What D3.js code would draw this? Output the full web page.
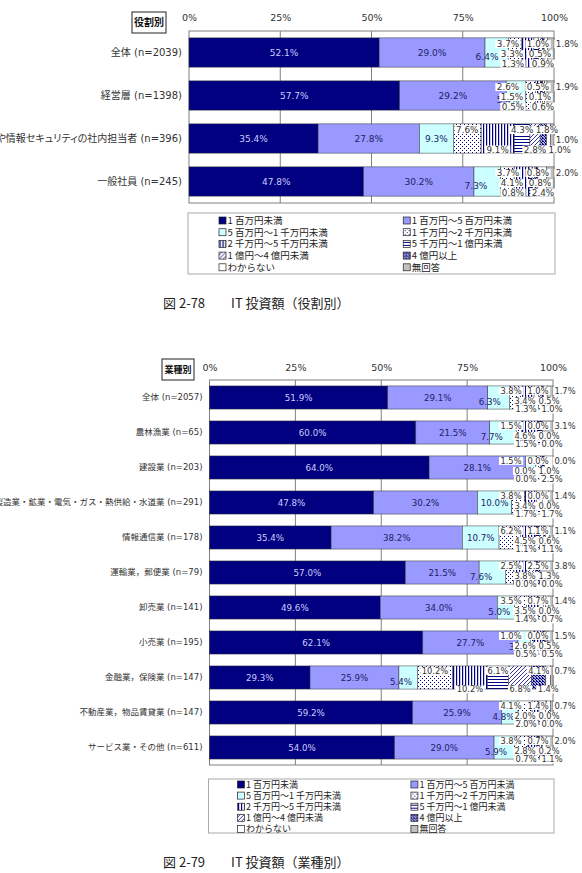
<!DOCTYPE html>
<html lang="ja">
<head>
<meta charset="utf-8">
<title>IT投資額</title>
<script src="https://cdn.jsdelivr.net/npm/d3@7"></script>
<style>
  body { margin: 0; background: #fff; }
  svg { display: block; font-family: "DejaVu Sans", "Noto Sans CJK JP", sans-serif; }
  .cap { font-family: "Noto Sans CJK JP", sans-serif; }
  .palt { font-feature-settings: "palt"; }
</style>
</head>
<body>
<svg id="chart" width="582" height="873"></svg>
<script>
// ---- data ----
const legendLabels = [
  "1 百万円未満", "1 百万円～5 百万円未満",
  "5 百万円～1 千万円未満", "1 千万円～2 千万円未満",
  "2 千万円～5 千万円未満", "5 千万円～1 億円未満",
  "1 億円～4 億円未満", "4 億円以上",
  "わからない", "無回答"
];
const tickValues = [0, 25, 50, 75, 100];
const tickLabels = ["0%", "25%", "50%", "75%", "100%"];

const roleCategories = [
  "全体 (n=2039)", "経営層 (n=1398)",
  "ITや情報セキュリティの社内担当者 (n=396)", "一般社員 (n=245)"
];
const roleValues = [
  [52.1, 29.0, 6.4, 3.7, 3.3, 1.3, 1.0, 0.5, 0.9, 1.8],
  [57.7, 29.2, 5.4, 2.6, 1.5, 0.5, 0.5, 0.1, 0.6, 1.9],
  [35.4, 27.8, 9.3, 7.6, 9.1, 4.3, 2.8, 1.8, 1.0, 1.0],
  [47.8, 30.2, 7.3, 3.7, 4.1, 0.8, 0.8, 0.8, 2.4, 2.0]
];

const industryCategories = [
  "全体 (n=2057)", "農林漁業 (n=65)", "建設業 (n=203)",
  "製造業・鉱業・電気・ガス・熱供給・水道業 (n=291)", "情報通信業 (n=178)",
  "運輸業，郵便業 (n=79)", "卸売業 (n=141)", "小売業 (n=195)",
  "金融業，保険業 (n=147)", "不動産業，物品賃貸業 (n=147)", "サービス業・その他 (n=611)"
];
const industryValues = [
  [51.9, 29.1, 6.3, 3.8, 3.4, 1.3, 1.0, 0.5, 1.0, 1.7],
  [60.0, 21.5, 7.7, 1.5, 4.6, 1.5, 0.0, 0.0, 0.0, 3.1],
  [64.0, 28.1, 3.0, 1.5, 0.0, 0.0, 0.0, 1.0, 2.5, 0.0],
  [47.8, 30.2, 10.0, 3.8, 3.4, 1.7, 0.0, 0.0, 1.7, 1.4],
  [35.4, 38.2, 10.7, 6.2, 4.5, 1.1, 1.1, 0.6, 1.1, 1.1],
  [57.0, 21.5, 7.6, 2.5, 3.8, 0.0, 2.5, 1.3, 0.0, 3.8],
  [49.6, 34.0, 5.0, 3.5, 3.5, 1.4, 0.7, 0.0, 0.7, 1.4],
  [62.1, 27.7, 3.6, 1.0, 2.6, 0.5, 0.0, 0.5, 0.5, 1.5],
  [29.3, 25.9, 5.4, 10.2, 10.2, 6.1, 6.8, 4.1, 1.4, 0.7],
  [59.2, 25.9, 4.8, 4.1, 2.0, 2.0, 1.4, 0.0, 0.0, 0.7],
  [54.0, 29.0, 5.9, 3.8, 2.8, 0.7, 0.7, 0.2, 1.1, 2.0]
];

// ---- styles ----
const fills = ["#000080", "#9999ff", "#ccffff", "url(#p4)", "url(#p5)", "url(#p6)",
               "url(#p7)", "url(#p8)", "#ffffff", "#c0c0c0"];
const insideColors = ["#ccccff", "#222266", "#222266"];

const svg = d3.select("#chart");
const defs = svg.append("defs");

function pattern(id, w, h, draw) {
  const p = defs.append("pattern").attr("id", id).attr("patternUnits", "userSpaceOnUse")
    .attr("width", w).attr("height", h);
  p.append("rect").attr("width", w).attr("height", h).attr("fill", "#fff");
  draw(p);
}
pattern("p4", 4, 4, p => {
  p.append("rect").attr("x", 0).attr("y", 0).attr("width", 1).attr("height", 1).attr("fill", "#000080");
  p.append("rect").attr("x", 2).attr("y", 2).attr("width", 1).attr("height", 1).attr("fill", "#000080");
});
pattern("p5", 3, 3, p => {
  p.append("rect").attr("x", 0).attr("y", 0).attr("width", 1.2).attr("height", 3).attr("fill", "#000080");
});
pattern("p6", 3, 3, p => {
  p.append("rect").attr("x", 0).attr("y", 1).attr("width", 3).attr("height", 1).attr("fill", "#000080");
});
pattern("p7", 4, 4, p => {
  p.append("path").attr("d", "M0,4 L4,0 M-1,1 L1,-1 M3,5 L5,3").attr("stroke", "#000080").attr("stroke-width", 0.8);
});
pattern("p8", 3, 3, p => {
  p.append("path").attr("d", "M0,0 L3,3 M-1,2 L1,4 M2,-1 L4,1").attr("stroke", "#000080").attr("stroke-width", 1.2);
  p.append("rect").attr("x", 2).attr("y", 0).attr("width", 1).attr("height", 1).attr("fill", "#000080");
});

const fmt = v => d3.format(".1f")(v) + "%";

function addLabel(g, x, y, text, size, color, bg) {
  const lg = g.append("g");
  const t = lg.append("text").attr("x", x).attr("y", y).attr("dy", "0.35em")
    .attr("text-anchor", "middle").attr("font-size", size).attr("fill", color).text(text);
  if (bg) {
    const b = t.node().getBBox();
    lg.insert("rect", "text").attr("x", b.x - 1.5).attr("y", b.y + 1)
      .attr("width", b.width + 3).attr("height", b.height - 2).attr("fill", "#fff");
  }
  return t.node().getComputedTextLength();
}

function drawChart(cfg, categories, values) {
  const g = svg.append("g");
  const x = d3.scaleLinear().domain([0, 100]).range([cfg.x0, cfg.x1]);
  const y = d3.scaleBand().domain(categories).range([cfg.top, cfg.bottom])
    .paddingInner(cfg.pad).paddingOuter(cfg.pad / 2);

  // tag box
  g.append("rect").attr("x", cfg.tag[0]).attr("y", cfg.tag[1]).attr("width", cfg.tag[2]).attr("height", cfg.tag[3])
    .attr("fill", "#fff").attr("stroke", "#222").attr("stroke-width", 1);
  g.append("text").attr("x", cfg.tag[0] + cfg.tag[2] / 2).attr("y", cfg.tag[1] + cfg.tag[3] / 2).attr("dy", "0.36em")
    .attr("text-anchor", "middle").attr("font-size", cfg.tagFont).attr("font-weight", "bold")
    .attr("class", "cap").attr("fill", "#111").text(cfg.tagText);

  // top axis labels
  const ax = g.append("g").attr("transform", `translate(0,${cfg.top - 6})`)
    .call(d3.axisTop(x).tickValues(tickValues).tickFormat((d, i) => tickLabels[i]).tickSize(0).tickPadding(cfg.tickPad));
  ax.select(".domain").remove();
  ax.selectAll("text").attr("font-size", cfg.axisFont).attr("fill", "#333")
    .attr("font-family", "DejaVu Sans, sans-serif");

  // frame and grid
  g.append("g").selectAll("line").data(tickValues.slice(1, 4)).join("line")
    .attr("x1", d => x(d)).attr("x2", d => x(d)).attr("y1", cfg.top).attr("y2", cfg.bottom)
    .attr("stroke", "#808080").attr("stroke-width", 1);
  g.append("rect").attr("x", x(0)).attr("y", cfg.top).attr("width", x(100) - x(0)).attr("height", cfg.bottom - cfg.top)
    .attr("fill", "none").attr("stroke", "#808080").attr("stroke-width", 1);

  // category labels
  g.append("g").selectAll("text").data(categories).join("text")
    .attr("class", cfg.catClass)
    .attr("x", cfg.x0 - 7).attr("y", d => y(d) + y.bandwidth() / 2).attr("dy", "0.35em")
    .attr("text-anchor", "end").attr("font-size", cfg.catFont).attr("fill", "#333").text(d => d);

  // bars
  const bars = g.append("g");
  const labels = g.append("g");
  values.forEach((vals, r) => {
    const total = d3.sum(vals);
    let acc = 0;
    const segs = vals.map((v, i) => {
      const s = { i, v, a: acc / total * 100, b: (acc + v) / total * 100 };
      acc += v;
      return s;
    });
    const yc = y(categories[r]) + y.bandwidth() / 2;
    bars.selectAll(null).data(segs.filter(s => s.v > 0)).join("rect")
      .attr("x", s => x(s.a)).attr("y", y(categories[r]))
      .attr("width", s => x(s.b) - x(s.a)).attr("height", y.bandwidth())
      .attr("fill", s => fills[s.i]).attr("stroke", "#333").attr("stroke-width", 0.5);

    // large segment labels
    segs.slice(0, 3).forEach(s => {
      const w = x(s.b) - x(s.a);
      if (s.i < 2 || w > cfg.labelFont * 3.2) {
        addLabel(labels, (x(s.a) + x(s.b)) / 2, yc, fmt(s.v), cfg.labelFont, insideColors[s.i], false);
      } else {
        addLabel(labels, x(s.a) + 2, yc + 4, fmt(s.v), cfg.labelFont, insideColors[s.i], false);
      }
    });

    // small segment labels
    const small = segs.slice(3);
    const wide = d3.sum(small.slice(0, 6), s => s.v) > 20;
    const sf = cfg.smallFont;
    if (!wide) {
      const slots = [[0, 0], [1, 0], [2, 0], [0, 1], [1, 1], [2, 1], [0, 2]];
      small.forEach((s, k) => {
        const [row, col] = slots[k];
        addLabel(labels, cfg.x1 + cfg.slotDx[row][col], yc + cfg.rowDy[row], fmt(s.v), sf, "#333", true);
      });
    } else {
      const lastRight = [-1e9, -1e9, -1e9];
      const lw = sf * 2.7;
      small.forEach((s, k) => {
        let row, cx;
        if (k === small.length - 1) {
          cx = cfg.x1 + cfg.slotDx[0][2];
          row = [0, 1, 2].find(rr => lastRight[rr] < cx - lw / 2) ?? 1;
        } else {
          row = k % 2 === 0 ? 0 : 2;
          cx = Math.max((x(s.a) + x(s.b)) / 2, lastRight[row] + lw / 2 + 1);
        }
        lastRight[row] = cx + lw / 2;
        addLabel(labels, cx, yc + cfg.rowDy[row], fmt(s.v), sf, "#333", true);
      });
    }
  });

  // legend
  const lw = cfg.x1 - cfg.x0 + 2;
  const lg = g.append("g").attr("transform", `translate(${cfg.x0 - 1},${cfg.legendTop})`);
  lg.append("rect").attr("width", lw).attr("height", cfg.legendH)
    .attr("fill", "#fff").attr("stroke", "#aaa").attr("stroke-width", 1);
  const items = lg.selectAll("g").data(legendLabels).join("g")
    .attr("transform", (d, i) => `translate(${lw * (i % 2 === 0 ? 0.094 : 0.596)},${cfg.legendRow0 + Math.floor(i / 2) * cfg.legendStep})`);
  items.append("rect").attr("x", -3.5).attr("y", -3.5).attr("width", 7).attr("height", 7)
    .attr("fill", (d, i) => fills[i]).attr("stroke", "#222").attr("stroke-width", 0.7);
  items.append("text").attr("x", 5).attr("dy", "0.35em").attr("font-size", cfg.legendFont)
    .attr("fill", "#222").attr("class", "cap").text(d => d);

  // caption
  g.append("text").attr("class", "cap").attr("x", 163).attr("y", cfg.captionY).attr("dy", "0.35em")
    .attr("font-size", 13).attr("fill", "#222").attr("xml:space", "preserve").text(cfg.caption);
}

drawChart({
  x0: 189, x1: 554, top: 31, bottom: 203, pad: 0.32,
  tag: [132, 12, 34, 21], tagText: "役割別", tagFont: 10,
  axisFont: 9.5, tickPad: 4, catFont: 10, catClass: "palt", labelFont: 9, smallFont: 8.8,
  slotDx: [[-46, -16, 13], [-42, -14], [-41, -11]], rowDy: [-8.5, 1.5, 11],
  legendTop: 213, legendH: 61, legendRow0: 7.5, legendStep: 11.7, legendFont: 9.5,
  captionY: 303, caption: "図 2-78　　IT 投資額（役割別）"
}, roleCategories, roleValues);

drawChart({
  x0: 209.5, x1: 553, top: 380, bottom: 765, pad: 0.34,
  tag: [162, 359, 32, 21], tagText: "業種別", tagFont: 9,
  axisFont: 9.5, tickPad: 3, catFont: 8.5, catClass: "", labelFont: 8.7, smallFont: 8.3,
  slotDx: [[-42, -15, 12], [-28, -4], [-27, -1]], rowDy: [-6.5, 3.5, 12],
  legendTop: 779, legendH: 54, legendRow0: 5.5, legendStep: 11.1, legendFont: 9,
  captionY: 862, caption: "図 2-79　　IT 投資額（業種別）"
}, industryCategories, industryValues);
</script>
</body>
</html>
